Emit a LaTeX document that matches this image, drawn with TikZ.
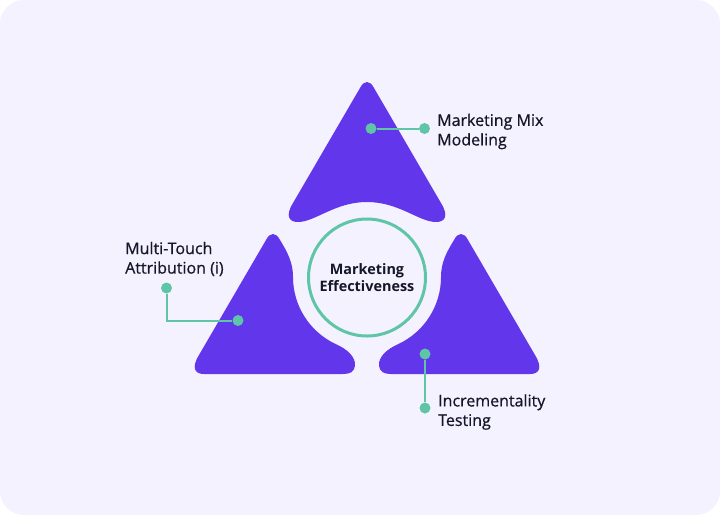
\documentclass[tikz,border=0pt]{standalone}
\usepackage{fontspec}
\setmainfont{Open Sans}
\newfontfamily\medfont[FakeBold=0.6]{Open Sans}
\definecolor{bgc}{HTML}{F4F2FE}
\definecolor{purp}{HTML}{6236EB}
\definecolor{tealc}{HTML}{5EC5A7}
\definecolor{ink}{HTML}{16162A}
\begin{document}
\begin{tikzpicture}[x=1pt,y=-1pt,
  dot/.style={circle,fill=tealc,minimum size=11pt,inner sep=0pt},
  conn/.style={draw=tealc,line width=2pt},
  lbl/.style={anchor=west,align=left,inner sep=0pt,text=ink,font=\medfont\fontsize{16}{19.5}\selectfont},
  tri/.style={fill=purp}]
\fill[white] (0,0) rectangle (720,515);
\useasboundingbox (0,0) rectangle (720,515);
\fill[bgc,rounded corners=24pt] (0,0) rectangle (720,515);
\begin{scope}[shift={(367,277)},yscale=-1]
  % top shape
  \fill[tri] (-7,189) -- (-74,74) .. controls (-82,61) and (-78,55) .. (-69,55)
    .. controls (-52,55) and (-32,75) .. (0,75)
    .. controls (32,75) and (52,55) .. (69,55)
    .. controls (78,55) and (82,61) .. (74,74) -- (7,189)
    .. controls (3,197) and (-3,197) .. (-7,189) -- cycle;
  % left shape
  \fill[tri] (-101,37) .. controls (-97,45) and (-91,45) .. (-87,37)
    .. controls (-79,24) and (-74,14) .. (-74,0)
    arc[start angle=180,end angle=245,radius=74]
    .. controls (-20,-72) and (-11,-80) .. (-12,-89)
    .. controls (-13,-95) and (-17,-97) .. (-24,-97) -- (-163,-97)
    .. controls (-172,-97) and (-176,-91) .. (-168,-78) -- cycle;
  % right shape (mirror)
  \begin{scope}[xscale=-1]
  \fill[tri] (-101,37) .. controls (-97,45) and (-91,45) .. (-87,37)
    .. controls (-79,24) and (-74,14) .. (-74,0)
    arc[start angle=180,end angle=245,radius=74]
    .. controls (-20,-72) and (-11,-80) .. (-12,-89)
    .. controls (-13,-95) and (-17,-97) .. (-24,-97) -- (-163,-97)
    .. controls (-172,-97) and (-176,-91) .. (-168,-78) -- cycle;
  \end{scope}
\end{scope}
\node[circle,draw=tealc,line width=3pt,minimum size=117pt,inner sep=0pt,align=center,
  text=ink,font=\fontsize{14.4}{17}\selectfont\bfseries] (ctr) at (367,277.5) {Marketing\\Effectiveness};
% connectors
\node[dot] (a1) at (371,128.5) {};
\node[dot] (a2) at (424.5,128.5) {};
\draw[conn] (a1) -- (a2);
\node[dot] (b1) at (166.5,288) {};
\node[dot] (b2) at (238,320.5) {};
\draw[conn] (b1) |- (b2);
\node[dot] (c1) at (425,354) {};
\node[dot] (c2) at (425,408) {};
\draw[conn] (c1) -- (c2);
% labels
\node[lbl] (l1) at (437,131.5) {Marketing Mix\\Modeling};
\node[lbl] (l2) at (125,259) {Multi-Touch\\Attribution (i)};
\node[lbl] (l3) at (438,412) {Incrementality\\Testing};
\end{tikzpicture}
\end{document}
